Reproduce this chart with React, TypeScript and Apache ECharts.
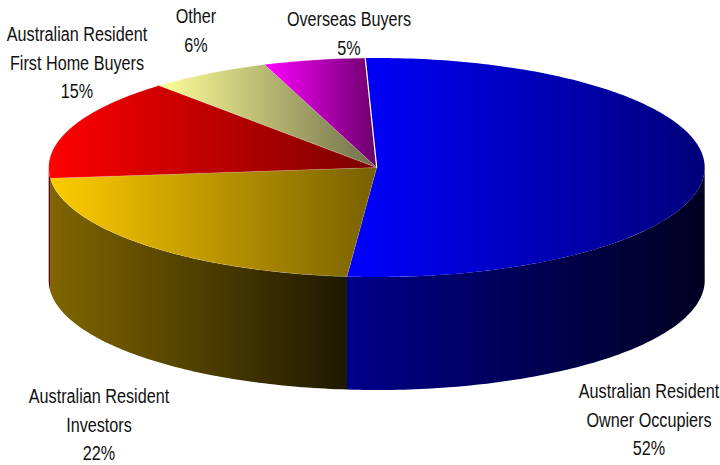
import React, { useEffect, useRef } from "react";
import * as echarts from "echarts";

// Share of purchases by buyer type, in percent, clockwise from the top.
const buyers = [
  "Australian Resident\nOwner Occupiers",
  "Australian Resident\nInvestors",
  "Australian Resident\nFirst Home Buyers",
  "Other",
  "Overseas Buyers",
];
const shares = [52, 22, 15, 6, 5];

// Gradient end colours for each slice: the lid runs bright to dim, the wall dim to near black.
const lidColors = [
  ["#0000ff", "#00007a"],
  ["#ffcc00", "#786000"],
  ["#ff0000", "#7a0000"],
  ["#ffff99", "#6e6e4a"],
  ["#ff00ff", "#6a006a"],
];
const wallColors = [
  ["#00008a", "#000020"],
  ["#806600", "#1e1800"],
  ["#660000", "#500000"],
  ["#808050", "#808050"],
  ["#800080", "#800080"],
];

// Centre of each label block.
const labelCentres = [
  [649, 420],
  [99, 425],
  [77, 63],
  [196, 31],
  [349, 34],
];

const CX = 376.7;
const CY = 167.5;
const RX = 328;
const RY = 109.5;
const DEPTH = 113;
const START_DEG = -2;

const total = shares.reduce((a, b) => a + b, 0);

function rimPoint(deg: number, drop = 0): number[] {
  const r = (deg * Math.PI) / 180;
  return [CX + RX * Math.sin(r), CY - RY * Math.cos(r) + drop];
}

function arcPoints(from: number, to: number, drop = 0): number[][] {
  const pts: number[][] = [];
  const steps = Math.max(2, Math.ceil(Math.abs(to - from)));
  for (let i = 0; i <= steps; i++) pts.push(rimPoint(from + ((to - from) * i) / steps, drop));
  return pts;
}

function horizontal(stops: string[]) {
  return {
    type: "linear",
    x: 0,
    y: 0,
    x2: 1,
    y2: 0,
    colorStops: [
      { offset: 0, color: stops[0] },
      { offset: 1, color: stops[1] },
    ],
  };
}

function renderSlice(params: any, api: any) {
  const i = params.dataIndex;
  let before = 0;
  for (let k = 0; k < i; k++) before += shares[k];
  const a0 = START_DEG + (before / total) * 360;
  const a1 = a0 + (api.value(0) / total) * 360;

  const children: any[] = [];
  // The wall shows only along the front half of the rim (90 to 270 degrees).
  const w0 = Math.max(a0, 90);
  const w1 = Math.min(a1, 270);
  if (w1 > w0) {
    children.push({
      type: "polygon",
      shape: { points: [...arcPoints(w0, w1), ...arcPoints(w1, w0, DEPTH)] },
      style: { fill: horizontal(wallColors[i]) },
    });
  }
  children.push({
    type: "polygon",
    shape: { points: [[CX, CY], ...arcPoints(a0, a1)] },
    style: {
      fill: horizontal(lidColors[i]),
      stroke: "rgba(255,255,255,0.25)",
      lineWidth: i === 0 ? 0 : 0.6,
    },
  });
  // The last slice closes the ring with a thin white seam at the top.
  if (i === shares.length - 1) {
    const seam = rimPoint(a1);
    children.push({
      type: "line",
      shape: { x1: CX, y1: CY, x2: seam[0], y2: seam[1] },
      style: { stroke: "#ffffff", lineWidth: 1.2 },
    });
  }
  return { type: "group", children };
}

export default function App() {
  const ref = useRef<HTMLDivElement>(null);
  useEffect(() => {
    document.body.style.margin = "0";
    const chart = echarts.init(ref.current!, null, { renderer: "svg" });
    chart.setOption({
      animation: false,
      backgroundColor: "#ffffff",
      series: [
        {
          type: "custom",
          coordinateSystem: "none",
          clip: false,
          data: shares.map((v, i) => ({ name: buyers[i], value: [v] })),
          renderItem: renderSlice,
        },
      ],
      graphic: buyers.map((name, i) => ({
        type: "text",
        x: labelCentres[i][0],
        y: labelCentres[i][1],
        scaleX: 0.81,
        style: {
          text: `${name}\n${shares[i]}%`,
          font: '20px "Liberation Sans"',
          fill: "#111111",
          align: "center",
          verticalAlign: "middle",
          lineHeight: 28.5,
        },
      })),
    });
    return () => chart.dispose();
  }, []);
  return <div ref={ref} style={{ width: 720, height: 465 }} />;
}
